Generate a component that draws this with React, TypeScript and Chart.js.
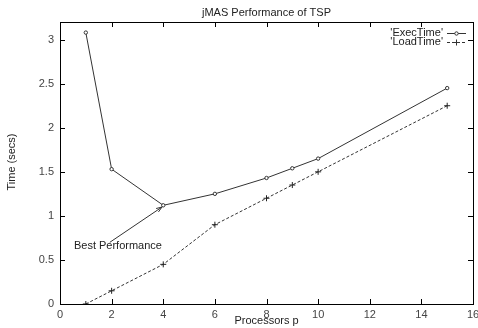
import React, { useEffect, useRef } from "react";
import { Chart, registerables } from "chart.js";

Chart.register(...registerables);

const processors = [1, 2, 4, 6, 8, 9, 10, 15];
const execTime = [3.08, 1.53, 1.12, 1.25, 1.43, 1.54, 1.65, 2.45];
const loadTime = [0, 0.15, 0.45, 0.9, 1.2, 1.35, 1.5, 2.25];
const xTicks = [0, 2, 4, 6, 8, 10, 12, 14, 16];
const yTicks = [0, 0.5, 1, 1.5, 2, 2.5, 3];
const titleText = "jMAS Performance of TSP";
const xTitle = "Processors p";
const yTitle = "Time (secs)";
const seriesNames = ["'ExecTime'", "'LoadTime'"];
const labelText = "Best Performance";
const labelPos = [0.54, 0.66];
const arrowFrom = [1.93, 0.7];
const arrowTo = [3.95, 1.1];

const FONT = "11px 'Liberation Sans', Arial, sans-serif";
const INK = "#222";

const decor = {
  id: "decor",
  afterDraw(chart: any) {
    const ctx = chart.ctx as CanvasRenderingContext2D;
    const a = chart.chartArea;
    const xs = chart.scales.x;
    const ys = chart.scales.y;
    ctx.save();
    ctx.strokeStyle = "#000";
    ctx.lineWidth = 1;
    ctx.strokeRect(Math.round(a.left) + 0.5, Math.round(a.top) + 0.5, Math.round(a.right - a.left), Math.round(a.bottom - a.top));
    ctx.beginPath();
    for (const t of xTicks) {
      const px = Math.round(xs.getPixelForValue(t)) + 0.5;
      ctx.moveTo(px, a.bottom);
      ctx.lineTo(px, a.bottom - 5);
      ctx.moveTo(px, a.top);
      ctx.lineTo(px, a.top + 5);
    }
    for (const t of yTicks) {
      const py = Math.round(ys.getPixelForValue(t)) + 0.5;
      ctx.moveTo(a.left, py);
      ctx.lineTo(a.left + 5, py);
      ctx.moveTo(a.right, py);
      ctx.lineTo(a.right - 5, py);
    }
    ctx.stroke();

    ctx.fillStyle = INK;
    ctx.font = FONT;
    ctx.textAlign = "center";
    ctx.textBaseline = "middle";
    ctx.fillText(titleText, (a.left + a.right) / 2, 13);
    ctx.fillText(xTitle, (a.left + a.right) / 2, 321);
    ctx.save();
    ctx.translate(12, 162);
    ctx.rotate(-Math.PI / 2);
    ctx.fillText(yTitle, 0, 0);
    ctx.restore();

    ctx.textAlign = "right";
    const lx = 443;
    const rows = [33, 42];
    seriesNames.forEach((n, i) => {
      const y = rows[i];
      ctx.fillStyle = INK;
      ctx.fillText(n, lx, y);
      ctx.strokeStyle = "#333";
      ctx.lineWidth = 1;
      ctx.setLineDash(i === 1 ? [3, 2] : []);
      ctx.beginPath();
      ctx.moveTo(447, y + 0.5);
      ctx.lineTo(466, y + 0.5);
      ctx.stroke();
      ctx.setLineDash([]);
      ctx.beginPath();
      if (i === 0) {
        ctx.arc(456.5, y + 0.5, 1.7, 0, Math.PI * 2);
        ctx.fillStyle = "#fff";
        ctx.fill();
        ctx.stroke();
      } else {
        ctx.moveTo(453.5, y + 0.5);
        ctx.lineTo(459.5, y + 0.5);
        ctx.moveTo(456.5, y - 2.5);
        ctx.lineTo(456.5, y + 3.5);
        ctx.stroke();
      }
    });

    ctx.fillStyle = INK;
    ctx.textAlign = "left";
    ctx.fillText(labelText, xs.getPixelForValue(labelPos[0]), ys.getPixelForValue(labelPos[1]));
    const x1 = xs.getPixelForValue(arrowFrom[0]);
    const y1 = ys.getPixelForValue(arrowFrom[1]);
    const x2 = xs.getPixelForValue(arrowTo[0]);
    const y2 = ys.getPixelForValue(arrowTo[1]);
    ctx.strokeStyle = "#333";
    ctx.beginPath();
    ctx.moveTo(x1, y1);
    ctx.lineTo(x2, y2);
    const ang = Math.atan2(y2 - y1, x2 - x1);
    const hl = 6;
    ctx.moveTo(x2, y2);
    ctx.lineTo(x2 - hl * Math.cos(ang - 0.35), y2 - hl * Math.sin(ang - 0.35));
    ctx.moveTo(x2, y2);
    ctx.lineTo(x2 - hl * Math.cos(ang + 0.35), y2 - hl * Math.sin(ang + 0.35));
    ctx.stroke();
    ctx.restore();
  },
};

export default function App() {
  const ref = useRef<HTMLCanvasElement>(null);
  useEffect(() => {
    document.body.style.margin = "0";
    const canvas = ref.current!;
    const chart = new Chart(canvas, {
      type: "line",
      data: {
        datasets: [
          {
            label: seriesNames[0],
            data: processors.map((p, i) => ({ x: p, y: execTime[i] })),
            borderColor: "#333",
            borderWidth: 1,
            pointStyle: "circle",
            pointRadius: 1.7,
            pointBorderWidth: 1,
            pointBorderColor: "#333",
            pointBackgroundColor: "#fff",
            tension: 0,
          },
          {
            label: seriesNames[1],
            data: processors.map((p, i) => ({ x: p, y: loadTime[i] })),
            borderColor: "#333",
            borderWidth: 1,
            borderDash: [3, 2],
            pointStyle: "cross",
            pointRadius: 3,
            pointBorderWidth: 1,
            pointBorderColor: "#222",
            tension: 0,
          },
        ],
      },
      plugins: [decor],
      options: {
        responsive: false,
        animation: false,
        events: [],
        layout: { padding: { top: 22, right: 4, left: 0, bottom: 0 } },
        plugins: { legend: { display: false }, title: { display: false }, tooltip: { enabled: false } },
        scales: {
          x: {
            type: "linear",
            min: 0,
            max: 16,
            afterBuildTicks: (s: any) => {
              s.ticks = xTicks.map((v) => ({ value: v }));
            },
            afterFit: (s: any) => {
              s.height = 24;
              s.paddingLeft = 0;
              s.paddingRight = 0;
            },
            grid: { display: false, drawTicks: false },
            border: { display: false },
            ticks: { padding: 4, color: "#444", font: { family: "'Liberation Sans', Arial, sans-serif", size: 11 }, maxRotation: 0, autoSkip: false, callback: (v: any) => String(v) },
          },
          y: {
            type: "linear",
            min: 0,
            max: 3.2,
            afterBuildTicks: (s: any) => {
              s.ticks = yTicks.map((v) => ({ value: v }));
            },
            afterFit: (s: any) => {
              s.width = 60;
              s.paddingTop = 0;
              s.paddingBottom = 0;
            },
            grid: { display: false, drawTicks: false },
            border: { display: false },
            ticks: { padding: 6, color: "#444", font: { family: "'Liberation Sans', Arial, sans-serif", size: 11 }, autoSkip: false, callback: (v: any) => String(v) },
          },
        },
      },
    });
    return () => chart.destroy();
  }, []);
  return <canvas ref={ref} width={478} height={328} style={{ display: "block" }} />;
}
